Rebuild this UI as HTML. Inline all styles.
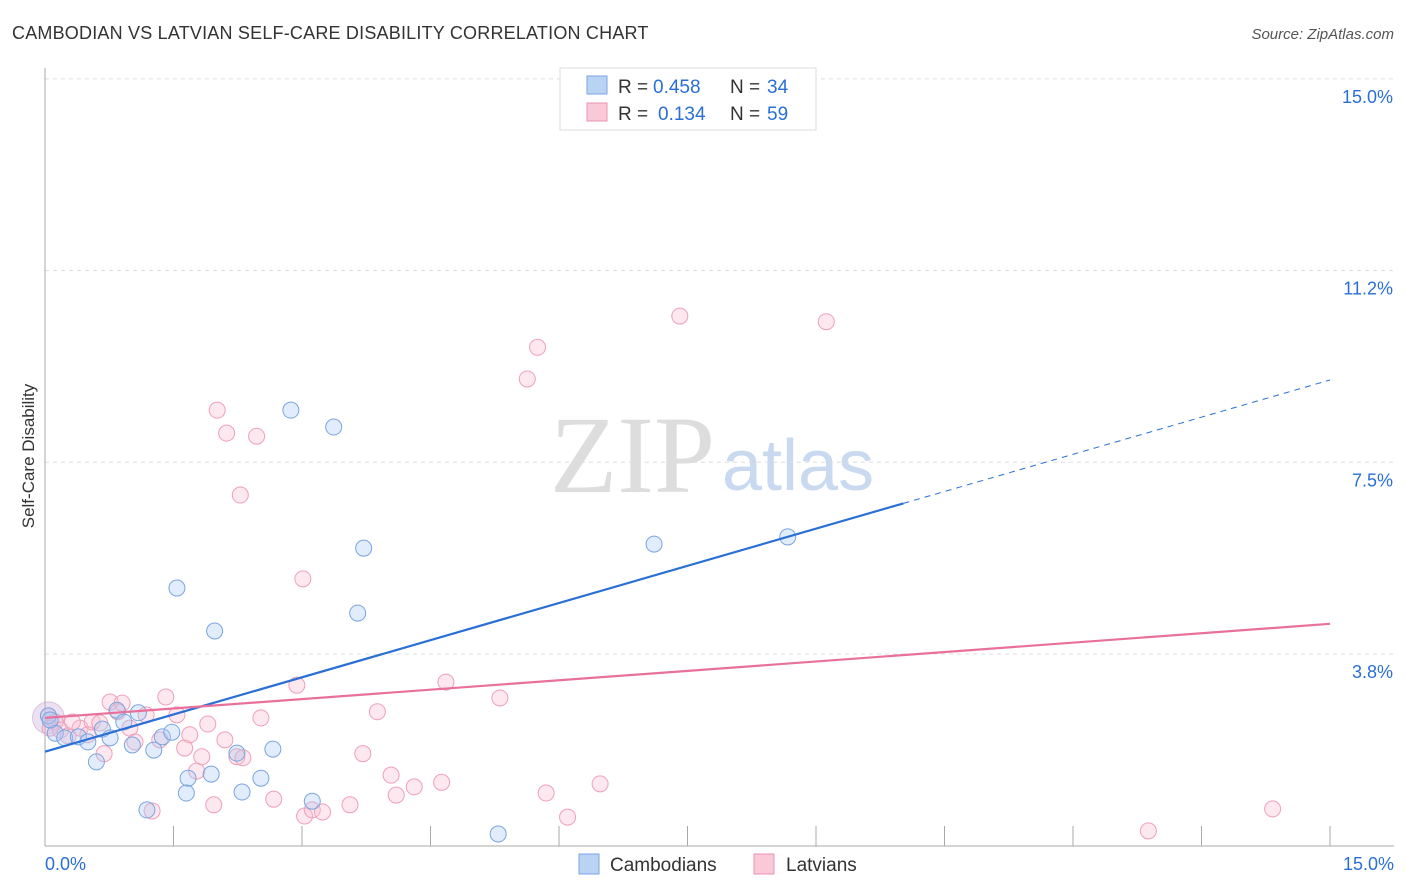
<!DOCTYPE html>
<html><head><meta charset="utf-8">
<style>
body{margin:0;background:#fff;font-family:"Liberation Sans",sans-serif;}
#wrap{position:relative;width:1406px;height:892px;overflow:hidden;}
svg{position:absolute;left:0;top:0;}
</style></head>
<body>
<div id="wrap">
<svg id="chart" width="1406" height="892">
<text x="12" y="39" font-size="18" fill="#333" letter-spacing="0.2">CAMBODIAN VS LATVIAN SELF-CARE DISABILITY CORRELATION CHART</text>
<text x="1394" y="39" font-size="15" fill="#555" font-style="italic" text-anchor="end">Source: ZipAtlas.com</text>
<text x="34" y="456" font-size="17" fill="#333" text-anchor="middle" transform="rotate(-90 34 456)">Self-Care Disability</text>
<text x="715" y="492" font-size="110" fill="#ddd" text-anchor="end" font-family="Liberation Serif,serif">ZIP</text>
<text x="722" y="490" font-size="72" fill="#c8d9f0">atlas</text>
<g id="grid"></g><g id="marks"></g>
<g>
<rect x="560" y="68" width="256" height="62" fill="#fff" stroke="#ddd"/>
<rect x="587" y="76" width="20" height="18" fill="#b9d3f5" stroke="#7aa5e0"/>
<text x="618" y="93" font-size="19" fill="#333">R =</text>
<text x="653" y="93" font-size="19" fill="#2a6fd6">0.458</text>
<text x="730" y="93" font-size="19" fill="#333">N =</text>
<text x="767" y="93" font-size="19" fill="#2a6fd6">34</text>
<rect x="587" y="103" width="20" height="18" fill="#f9c9d7" stroke="#eb93ae"/>
<text x="618" y="120" font-size="19" fill="#333">R =</text>
<text x="658" y="120" font-size="19" fill="#2a6fd6">0.134</text>
<text x="730" y="120" font-size="19" fill="#333">N =</text>
<text x="767" y="120" font-size="19" fill="#2a6fd6">59</text>
</g>
<g>
<rect x="579" y="854" width="20" height="20" fill="#b9d3f5" stroke="#7aa5e0"/>
<text x="610" y="871" font-size="19" fill="#333">Cambodians</text>
<rect x="754" y="854" width="20" height="20" fill="#f9c9d7" stroke="#eb93ae"/>
<text x="786" y="871" font-size="19" fill="#333">Latvians</text>
</g>
</svg>
</div>
<script>
const yTicks=[3.75,7.5,11.25,15];
const yTickLabels=["3.8%","7.5%","11.2%","15.0%"];
const xLabels=["0.0%","15.0%"];
const camX=[2.87,3.37,3.72,1.54,1.98,3.65,7.11,8.67,0.04,0.12,0.23,0.39,0.50,0.60,0.67,0.76,0.84,0.92,1.02,1.09,1.27,1.37,1.48,1.67,1.65,1.94,2.24,2.30,2.52,2.66,3.12,1.19,5.29,0.06];
const camY=[8.52,8.19,5.82,5.04,4.20,4.55,5.90,6.04,2.54,2.20,2.11,2.13,2.03,1.64,2.28,2.11,2.65,2.42,1.97,2.60,1.87,2.13,2.22,1.32,1.03,1.40,1.81,1.05,1.32,1.89,0.87,0.70,0.23,2.46];
const latX=[7.41,9.12,5.75,5.63,2.01,2.12,2.47,2.28,3.01,4.68,2.94,5.31,3.88,1.41,0.76,0.90,1.18,1.54,1.90,2.52,0.04,0.12,0.18,0.27,0.41,0.55,0.64,0.69,0.99,1.05,1.34,1.63,1.69,1.83,2.24,2.31,1.77,3.71,4.04,4.10,4.31,4.63,5.85,6.48,6.10,1.97,2.67,3.03,3.12,3.24,3.56,1.25,12.88,14.33,0.85,0.32,0.50,2.10,0.06];
const latY=[10.36,10.25,9.75,9.13,8.52,8.07,8.01,6.86,5.22,3.20,3.14,2.89,2.62,2.91,2.81,2.79,2.56,2.56,2.38,2.50,2.54,2.42,2.26,2.15,2.30,2.42,2.40,1.80,2.30,2.03,2.07,1.91,2.17,1.74,1.74,1.72,1.46,1.80,1.38,0.99,1.15,1.24,1.03,1.21,0.56,0.80,0.91,0.58,0.70,0.66,0.80,0.68,0.29,0.72,2.62,2.42,2.17,2.07,2.30];
const camLine=[1.84,9.11], camSolidEnd=10.02;
const latLine=[2.50,4.34];
const NS="http://www.w3.org/2000/svg";
const sx=v=>45+v*(1285/15), sy=v=>845.7-v*(766.8/15);
const grid=document.getElementById('grid'), marks=document.getElementById('marks');
function mk(tag,attrs,parent){const e=document.createElementNS(NS,tag);for(const k in attrs)e.setAttribute(k,attrs[k]);parent.appendChild(e);return e;}
yTicks.forEach((t,i)=>{
 const l=mk('line',{x1:45,x2:1394,y1:sy(t),y2:sy(t),stroke:'#ddd','stroke-dasharray':'4 4'},grid);
 
 
 const tx=mk('text',{x:1393,y:sy(t)+24,'font-size':18,fill:'#2a6fd6','text-anchor':'end'},grid);
 tx.textContent=yTickLabels[i];
 
 
});
const ax=mk('line',{x1:45,x2:45,y1:68,y2:846,stroke:'#aaa'},grid);


const bx=mk('line',{x1:45,x2:1394,y1:846,y2:846,stroke:'#aaa'},grid);


for(let i=0;i<=10;i++){
 const t=mk('line',{x1:sx(i*1.5),x2:sx(i*1.5),y1:826,y2:846,stroke:'#aaa'},grid);
 
 
}
[[0,'start',45],[15,'end',1394]].forEach((d,i)=>{
 const t=mk('text',{x:d[2],y:870,'font-size':18,fill:'#2a6fd6','text-anchor':d[1]},grid);
 t.textContent=xLabels[i];
 
 
});
const big=mk('circle',{cx:sx(0.04),cy:sy(2.5),r:16,fill:'rgba(200,170,220,0.35)',stroke:'rgba(200,150,200,0.5)'},marks);


latX.forEach((x,i)=>{
 const c=mk('circle',{cx:sx(x),cy:sy(latY[i]),r:8,fill:'rgba(248,190,208,0.35)',stroke:'#eea0b8','stroke-width':1},marks);
 
 
});
camX.forEach((x,i)=>{
 const c=mk('circle',{cx:sx(x),cy:sy(camY[i]),r:8,fill:'rgba(170,200,245,0.35)',stroke:'#7aa5e0','stroke-width':1},marks);
 
 
});
const f=x=>camLine[0]+(camLine[1]-camLine[0])*x/15;
const l1=mk('line',{x1:sx(0),y1:sy(camLine[0]),x2:sx(camSolidEnd),y2:sy(f(camSolidEnd)),stroke:'#2a6fd6','stroke-width':2.2},marks);


const l2=mk('line',{x1:sx(camSolidEnd),y1:sy(f(camSolidEnd)),x2:sx(15),y2:sy(camLine[1]),stroke:'#2a6fd6','stroke-width':1,'stroke-dasharray':'6 5'},marks);


const l3=mk('line',{x1:sx(0),y1:sy(latLine[0]),x2:sx(15),y2:sy(latLine[1]),stroke:'#e8709a','stroke-width':2.2},marks);


</script>
</body></html>
